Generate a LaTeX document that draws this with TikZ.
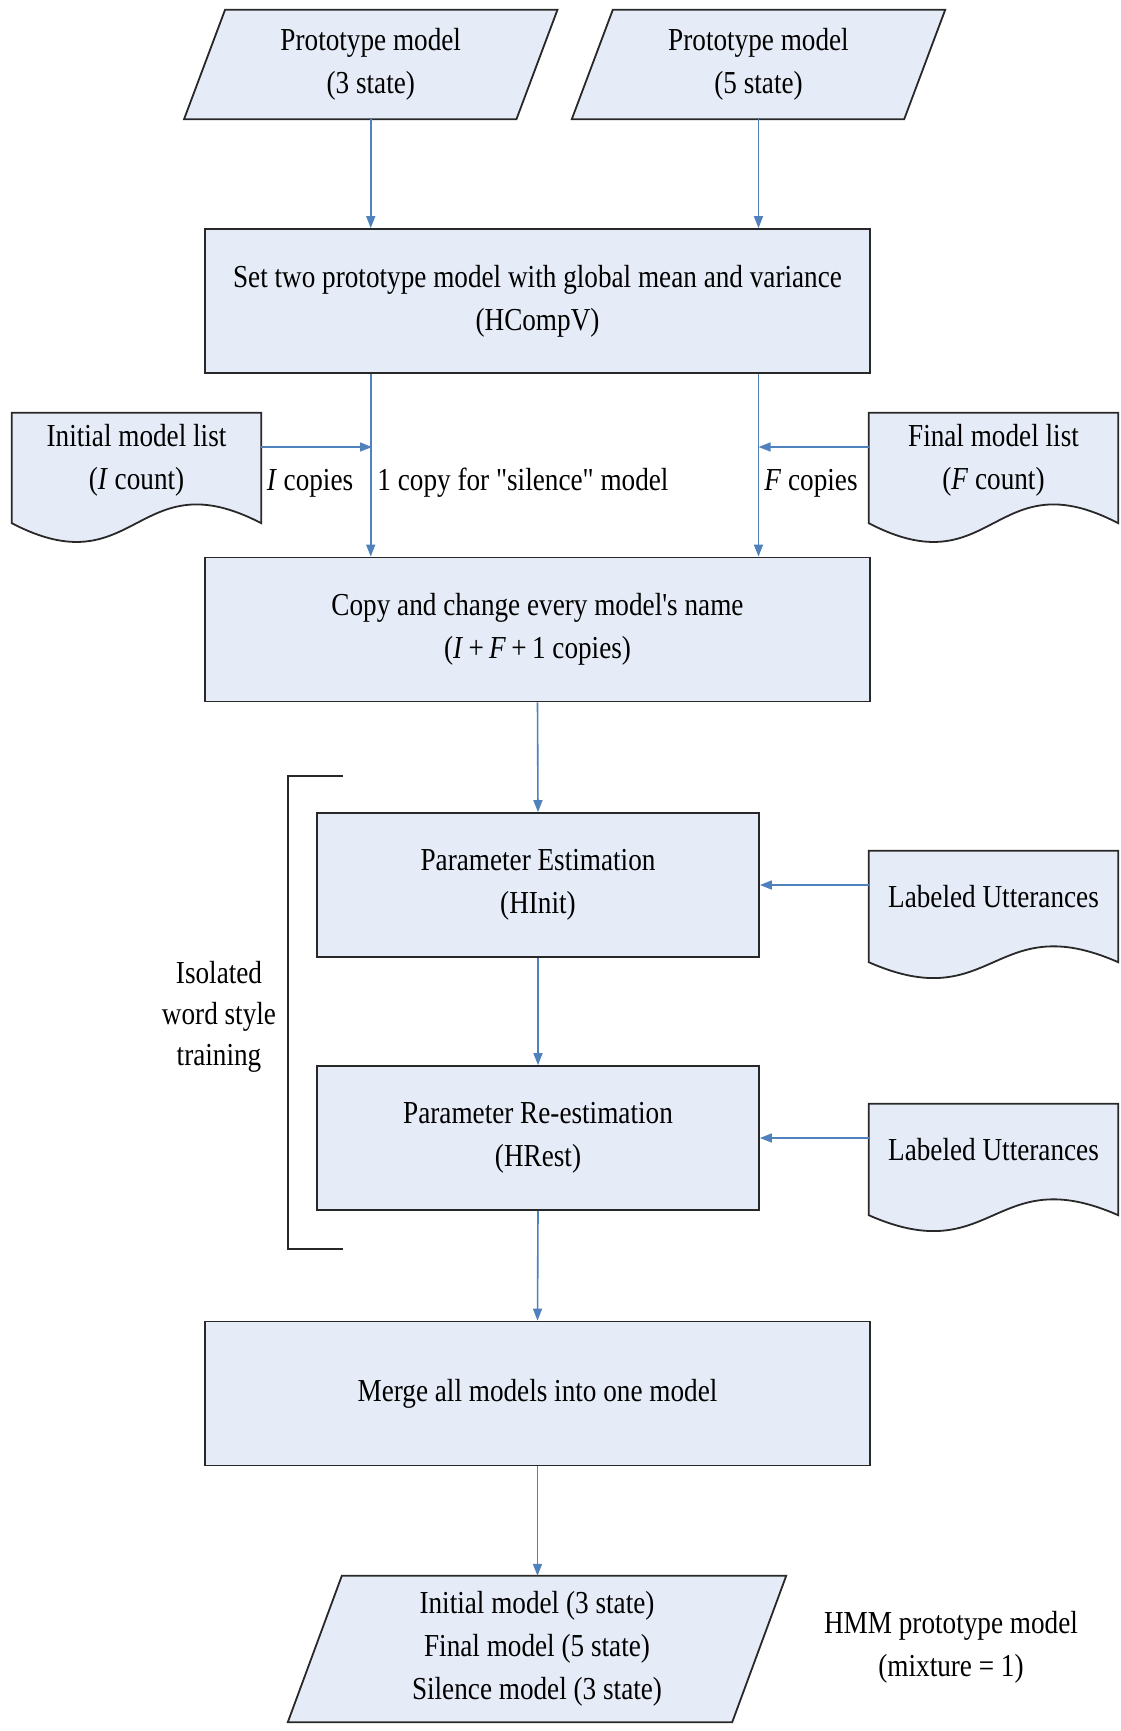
\documentclass[tikz,border=0pt]{standalone}
\usepackage{fontspec}
\setmainfont[FakeStretch=0.85,Ligatures=TeXOff]{Liberation Serif}
\usetikzlibrary{arrows.meta,backgrounds}
\definecolor{boxfill}{RGB}{230,236,247}
\definecolor{flowblue}{RGB}{79,129,189}
\definecolor{edgegray}{RGB}{40,40,40}

% parallelogram outline around a text node: #1 node name, #2 half shear
\newcommand\paraoutline[2]{%
  \draw[shapeline] ([xshift=#2]#1.north west) -- ([xshift=#2]#1.north east)
    -- ([xshift=-#2]#1.south east) -- ([xshift=-#2]#1.south west) -- cycle;}
% document outline with wavy bottom: #1 node name, #2 side drop, #3 wave depth
\newcommand\docoutline[3]{%
  \draw[shapeline] (#1.north west) -- (#1.north east) -- ([yshift=-#2]#1.south east)
    .. controls ([yshift=#3-#2]#1.south) and ([yshift=-#3-#2]#1.south)
    .. ([yshift=-#2]#1.south west) -- cycle;}

\begin{document}
\begin{tikzpicture}[x=1pt,y=-1pt,
  every node/.style={font=\fontsize{32}{43}\selectfont, align=center, inner sep=0pt},
  procbox/.style={draw=edgegray, fill=boxfill, line width=1.8pt, minimum height=144pt},
  shapeline/.style={draw=edgegray, fill=boxfill, line width=1.8pt},
  arr/.style={draw=flowblue, line width=1.6pt, -{Triangle[length=12pt,width=9pt]}},
  bracketline/.style={draw=edgegray, line width=1.8pt}
]
\useasboundingbox (0,0) rectangle (1120,1731);

% inputs
\node[minimum width=332pt, minimum height=109pt] (p1) at (370.75,64.5) {Prototype model\\(3 state)};
\node[minimum width=332pt, minimum height=109pt] (p2) at (758.5,64.5) {Prototype model\\(5 state)};

% process boxes
\node[procbox, minimum width=665pt] (b1) at (537.5,301) {Set two prototype model with global mean and variance\\(HCompV)};
\node[procbox, minimum width=665pt] (b2) at (537.5,629.5) {Copy and change every model's name\\(\textit{I}\,+\,\textit{F}\,+\,1 copies)};
\node[procbox, minimum width=442pt] (b3) at (538,885) {Parameter Estimation\\(HInit)};
\node[procbox, minimum width=442pt] (b4) at (538,1138) {Parameter Re-estimation\\(HRest)};
\node[procbox, minimum width=665pt] (b5) at (537.5,1393.5) {Merge all models into one model};

% documents
\node[minimum width=249pt, minimum height=94pt] (init) at (136.5,460) {Initial model list\\(\textit{I} count)};
\node[minimum width=249pt, minimum height=94pt] (final) at (993.5,460) {Final model list\\(\textit{F} count)};
\node[minimum width=249pt, minimum height=92pt] (lu1) at (993.5,897) {Labeled Utterances};
\node[minimum width=249pt, minimum height=92pt] (lu2) at (993.5,1150) {Labeled Utterances};

% output
\node[minimum width=444pt, minimum height=146pt] (out) at (537,1649) {Initial model (3 state)\\Final model (5 state)\\Silence model (3 state)};

\begin{scope}[on background layer]
  \fill[white] (0,0) rectangle (1120,1731);
  \paraoutline{p1}{20.5pt}
  \paraoutline{p2}{20.5pt}
  \paraoutline{out}{27pt}
  \docoutline{init}{16pt}{65pt}
  \docoutline{final}{16pt}{65pt}
  \docoutline{lu1}{19pt}{55pt}
  \docoutline{lu2}{19pt}{55pt}
\end{scope}

% side labels
\node (lblI) at (310,483) {\textit{I} copies};
\node (lblS) at (523,483) {1 copy for "silence" model};
\node (lblF) at (811,483) {\textit{F} copies};
\node[font=\fontsize{32}{41}\selectfont] (iso) at (219,1017) {Isolated\\word style\\training};
\node (hmm) at (951,1647) {HMM prototype model\\(mixture = 1)};

% bracket around the training stage
\draw[bracketline] (343,776) -- (288,776) -- (288,1249) -- (343,1249);

% junctions where the model lists join the copy lines
\coordinate (jI) at (372,447);
\coordinate (jF) at (758.5,447);

% connectors
\draw[arr] (p1.south) -- (p1.south |- b1.north);
\draw[arr] (p2.south) -- (p2.south |- b1.north);
\draw[arr] (p1.south |- b1.south) -- (p1.south |- b2.north);
\draw[arr] (p2.south |- b1.south) -- (p2.south |- b2.north);
\draw[arr] (init.east |- jI) -- (jI);
\draw[arr] (final.west |- jF) -- (jF);
\draw[arr] (b2.south) -- (b3.north);
\draw[arr] (b3.south) -- (b4.north);
\draw[arr] (lu1.west |- b3.east) -- (b3.east);
\draw[arr] (lu2.west |- b4.east) -- (b4.east);
\draw[arr] (b4.south) -- (b5.north);
\draw[arr] (b5.south) -- (b5.south |- out.north);
\end{tikzpicture}
\end{document}
